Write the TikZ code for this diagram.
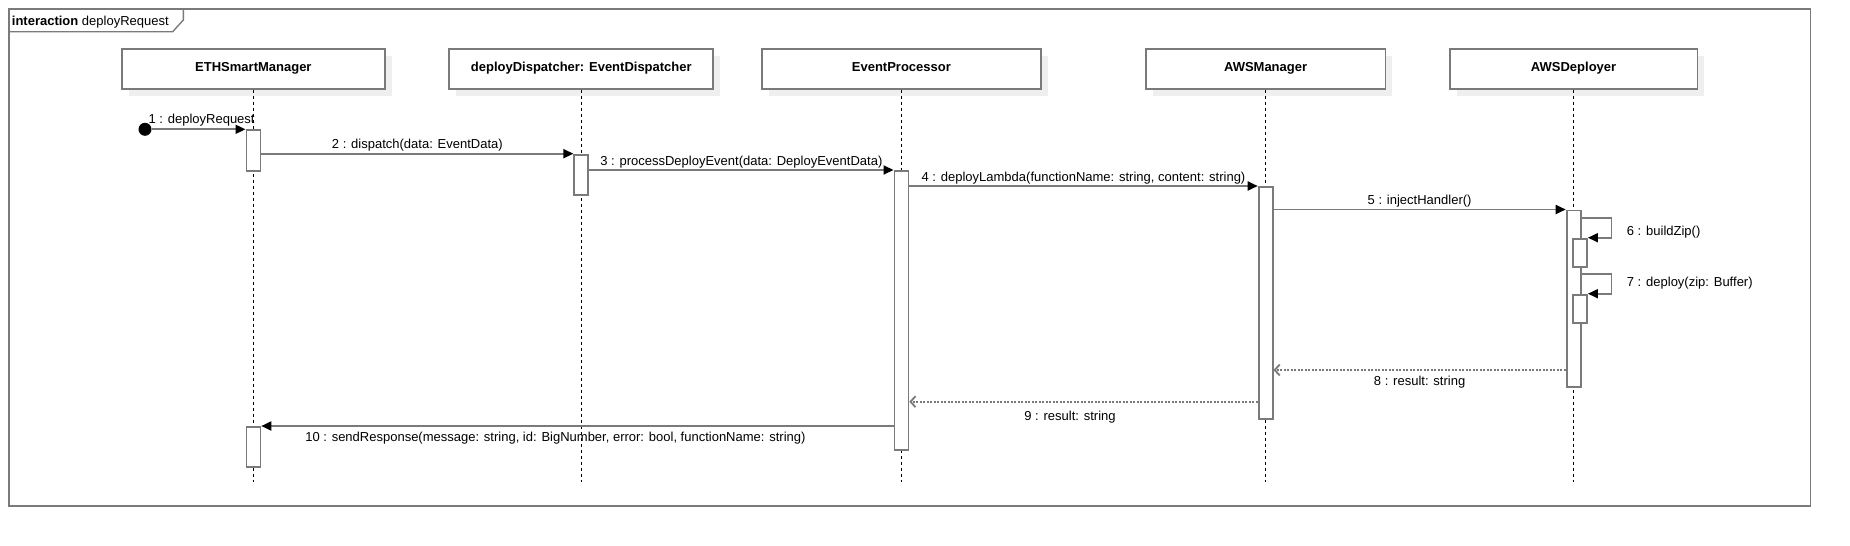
\documentclass[tikz,border=0pt]{standalone}
\usepackage{fontspec}
\setmainfont{Liberation Sans}
\usetikzlibrary{arrows.meta}
\definecolor{umlgray}{HTML}{7A7A7A}
\definecolor{shadowgray}{HTML}{EFEFEF}

\begin{document}
\begin{tikzpicture}[x=1pt,y=-1pt,
  font=\fontsize{13}{15}\selectfont,
  head/.style={draw=umlgray,line width=1.8pt,fill=white,minimum height=39.7pt,inner sep=0pt,
    text height=9.4pt,text depth=5.5pt,font=\fontsize{13}{15}\selectfont\bfseries},
  headshadow/.style={fill=shadowgray,draw=none,minimum height=39.7pt,inner sep=0pt},
  act/.style={draw=umlgray,line width=1.8pt,fill=white,minimum width=14pt,inner sep=0pt,anchor=north},
  life/.style={black,line width=0.9pt,dash pattern=on 3pt off 3pt},
  msg/.style={umlgray,line width=1.8pt,-{Triangle[length=10pt,width=9pt,color=black]}},
  retmsg/.style={umlgray,line width=1.8pt,dash pattern=on 2pt off 1.5pt,-{Straight Barb[length=5pt,width=11pt]}},
  lblup/.style={anchor=base,yshift=5pt,inner sep=0pt,text=black},
  lbldown/.style={anchor=base,yshift=-15pt,inner sep=0pt,text=black}]
\useasboundingbox (0,0) rectangle (1850,546);
\draw[umlgray,line width=1.8pt] (9.3,9.3) rectangle (1810.5,506);
\draw[umlgray,line width=1.4pt] (9.3,31.7) -- (172.7,31.7) -- (183.3,20) -- (183.3,9.3);
\node[anchor=base west,inner sep=0pt] (title) at (11.7,25) {\textbf{interaction} deployRequest};

\foreach \hname/\hx/\hw/\htext in {eth/253.4/263.3/ETHSmartManager,
    disp/581.3/264/{deployDispatcher: EventDispatcher},
    ep/901.4/279.3/EventProcessor,
    awsm/1265.6/239.7/AWSManager,
    awsd/1573.6/247.7/AWSDeployer}{
  \node[headshadow,minimum width=\hw pt] at (\hx+7,76.2) {};
  \node[head,minimum width=\hw pt] (\hname) at (\hx,69.2) {\htext};
  \coordinate (\hname-end) at (\hx,481.7);
  \draw[life] (\hname.south) -- (\hname-end);
}

\node[act,minimum height=40.7pt] (a1) at (eth.south |- 0,129.3) {};
\node[act,minimum height=40.3pt] (a2) at (disp.south |- 0,153.7) {};
\node[act,minimum height=279.3pt] (a3) at (ep.south |- 0,170) {};
\node[act,minimum height=232.3pt] (a4) at (awsm.south |- 0,186) {};
\node[act,minimum height=176.2pt] (a5) at (awsd.south |- 0,209.5) {};
\node[act,minimum height=28.3pt] (a6) at (1580,237.7) {};
\node[act,minimum height=28.3pt] (a7) at (1580,293.7) {};
\node[act,minimum height=39.7pt] (a8) at (eth.south |- 0,426) {};

\node[circle,fill=black,minimum size=13pt,inner sep=0pt] (start) at (145,129.3) {};
\draw[msg] (start) -- node[lblup,xshift=3pt,yshift=1pt] {1 : deployRequest} (a1.north west);
\draw[msg] (a1.east |- a2.north) -- node[lblup] {2 : dispatch(data: EventData)} (a2.north west);
\draw[msg] (a2.east |- a3.north) -- node[lblup] {3 : processDeployEvent(data: DeployEventData)} (a3.north west);
\draw[msg] (a3.east |- a4.north) -- node[lblup] {4 : deployLambda(functionName: string, content: string)} (a4.north west);
\draw[msg] (a4.east |- a5.north) -- node[lblup] {5 : injectHandler()} (a5.north west);
\draw[msg] (a5.east |- 0,218) -- ++(30,0) |- (a6.north east);
\node[anchor=west,inner sep=0pt] (l6) at (1626.7,231.7) {6 : buildZip()};
\draw[msg] (a5.east |- 0,273.7) -- ++(30,0) |- (a7.north east);
\node[anchor=west,inner sep=0pt] (l7) at (1626.7,282.7) {7 : deploy(zip: Buffer)};
\draw[retmsg] (a5.west |- 0,370) -- node[lbldown] {8 : result: string} (a4.east |- 0,370);
\draw[retmsg] (a4.west |- 0,401.7) -- node[lbldown,xshift=-13.5pt,yshift=-4pt] {9 : result: string} (a3.east |- 0,401.7);
\draw[msg] (a3.west |- a8.north) -- node[lbldown,xshift=-22pt] {10 : sendResponse(message: string, id: BigNumber, error: bool, functionName: string)} (a8.north east);
\end{tikzpicture}
\end{document}
